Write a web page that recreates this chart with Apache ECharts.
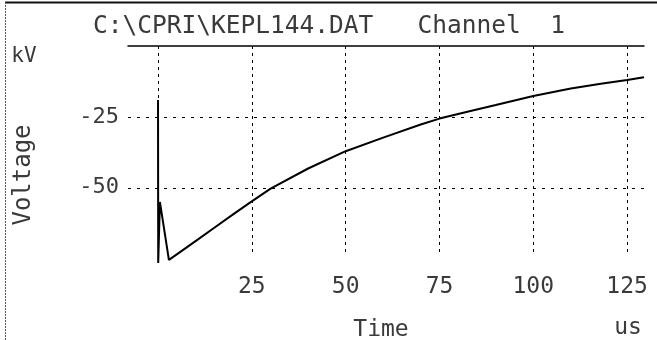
<!DOCTYPE html>
<html>
<head>
<meta charset="utf-8">
<script src="https://cdn.jsdelivr.net/npm/echarts@6/dist/echarts.min.js"></script>
<style>html,body{margin:0;padding:0;background:#fff;}#c{width:657px;height:340px;}</style>
</head>
<body>
<div id="c"></div>
<script>
// ---- data ----
var titleText = 'C:\\CPRI\\KEPL144.DAT   Channel  1';
var xName = 'Time';
var xUnit = 'us';
var yName = 'Voltage';
var yUnit = 'kV';
var xTickValues = [0, 25, 50, 75, 100, 125];
var xLabelValues = [25, 50, 75, 100, 125];
var yTickValues = [-50, -25];
var timeUs = [0, 0.05, 0.5, 2.9, 5, 10, 15, 20, 24.4, 30, 40, 50, 60, 70, 75, 83, 90, 100, 110, 118, 125, 129.5];
var voltageKV = [-19, -76.5, -55, -75.4, -73.5, -68.8, -64.1, -59.4, -55.3, -50.3, -43.2, -37.1, -32.3, -27.7, -25.6, -23.0, -20.8, -17.6, -15.0, -13.3, -12.0, -11.0];

var FONT = 'DejaVu Sans Mono';
var TXT = '#3a3a3a';
var pts = timeUs.map(function (t, i) { return [t, voltageKV[i]]; });

var chart = echarts.init(document.getElementById('c'), null, {renderer: 'canvas'});
chart.setOption({
  animation: false,
  backgroundColor: '#fff',
  grid: {left: 128, right: 13, top: 46, bottom: 87, containLabel: false, outerBoundsMode: 'none'},
  xAxis: [{
    type: 'value', min: -8, max: 129.5, position: 'bottom',
    axisLine: {show: false},
    axisTick: {show: false, customValues: xTickValues},
    axisLabel: {customValues: xLabelValues, margin: 23, fontSize: 23, fontFamily: FONT, color: TXT},
    splitLine: {show: true, lineStyle: {color: '#000', width: 1, type: [3, 4]}},
    name: xName, nameLocation: 'middle', nameGap: 66,
    nameTextStyle: {fontSize: 23, fontFamily: FONT, color: TXT, padding: [0, 10, 0, 0]}
  }, {
    type: 'value', min: -8, max: 129.5, position: 'top',
    axisLine: {show: true, onZero: false, lineStyle: {color: '#000', width: 1.5}},
    axisTick: {show: false}, axisLabel: {show: false}, splitLine: {show: false}
  }],
  yAxis: {
    type: 'value', min: -73, max: 0,
    axisLine: {show: false, onZero: false},
    axisTick: {show: false, customValues: yTickValues},
    axisLabel: {customValues: yTickValues, margin: 9, fontSize: 22, fontFamily: FONT, color: TXT},
    splitLine: {show: true, lineStyle: {color: '#000', width: 1, type: [3, 6]}}
  },
  series: [{
    type: 'line', data: pts, xAxisIndex: 0, showSymbol: false, clip: false,
    lineStyle: {color: '#000', width: 2}
  }],
  graphic: [
    {type: 'line', shape: {x1: 5, y1: 2.5, x2: 657, y2: 2.5}, style: {stroke: '#111', lineWidth: 2}},
    {type: 'line', shape: {x1: 5.5, y1: 2, x2: 5.5, y2: 340}, style: {stroke: '#555', lineWidth: 1, lineDash: [2, 1]}},
    {type: 'text', x: 329, y: 27, style: {text: titleText, fontSize: 24.5, fontFamily: FONT, fill: TXT, align: 'center', verticalAlign: 'middle'}},
    {type: 'text', x: 24, y: 57, style: {text: yUnit, fontSize: 21, fontFamily: FONT, fill: TXT, align: 'center', verticalAlign: 'middle'}},
    {type: 'text', x: 24, y: 175, rotation: Math.PI / 2, style: {text: yName, fontSize: 24, fontFamily: FONT, fill: TXT, align: 'center', verticalAlign: 'middle'}},
    {type: 'text', x: 628, y: 328, style: {text: xUnit, fontSize: 23, fontFamily: FONT, fill: TXT, align: 'center', verticalAlign: 'middle'}}
  ]
});
</script>
</body>
</html>
